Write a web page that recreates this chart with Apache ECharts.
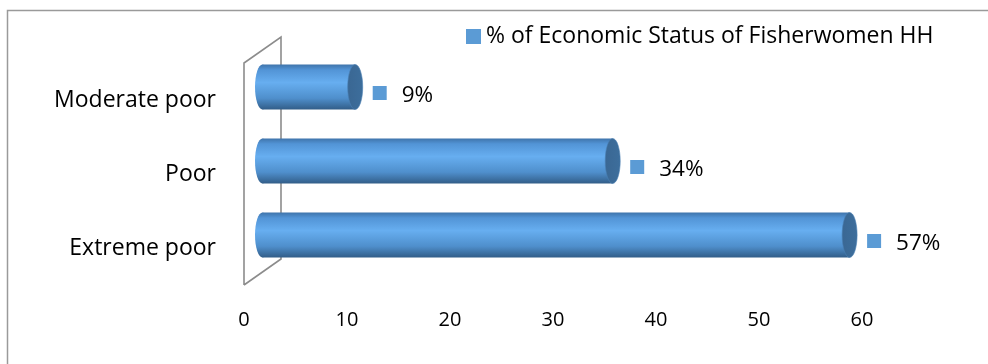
<!DOCTYPE html>
<html><head><meta charset="utf-8">
<script src="https://cdn.jsdelivr.net/npm/echarts@6/dist/echarts.min.js"></script>
<style>html,body{margin:0;padding:0;background:#fff}#c{width:988px;height:364px}</style>
</head><body><div id="c"></div>
<script>
var categories = ['Extreme poor', 'Poor', 'Moderate poor'];
var values = [57, 34, 9];
var seriesName = '% of Economic Status of Fisherwomen HH';
var xTicks = [0, 10, 20, 30, 40, 50, 60];

var FONT = '"Open Sans"';
var GL = 244, GT = 63, GW = 618, GH = 222;
var DX = 37, DY = -26; // depth offset
var chart = echarts.init(document.getElementById('c'), null, {renderer: 'canvas'});

function renderItem(params, api) {
  var idx = api.value(0), val = api.value(1);
  var p0 = api.coord([0, idx]);
  var p1 = api.coord([val, idx]);
  var ox = DX / 2, oy = DY / 2;
  var x0 = p0[0] + ox, x1 = p1[0] + ox, cy = p0[1] + oy;
  var h = 22.5, rx = 7.5;
  var grad = new echarts.graphic.LinearGradient(0, 0, 0, 1, [
    {offset: 0, color: '#3f74ab'},
    {offset: 0.12, color: '#5294d6'},
    {offset: 0.4, color: '#67aef0'},
    {offset: 0.75, color: '#4f8fcc'},
    {offset: 1, color: '#325d88'}
  ]);
  var capGrad = new echarts.graphic.LinearGradient(0, 0, 1, 0, [
    {offset: 0, color: '#3a6793'},
    {offset: 1, color: '#3d6e9c'}
  ]);
  var lx = x1 + rx + 10;
  return {
    type: 'group',
    children: [
      {type: 'ellipse', shape: {cx: x0, cy: cy, rx: rx, ry: h}, style: {fill: grad}},
      {type: 'rect', shape: {x: x0, y: cy - h, width: x1 - x0, height: 2 * h}, style: {fill: grad}},
      {type: 'ellipse', shape: {cx: x1, cy: cy, rx: rx, ry: h}, style: {fill: capGrad, stroke: '#4a7fb3', lineWidth: 0.6}},
      {type: 'rect', shape: {x: lx, y: cy + 6 - 7, width: 14, height: 14}, style: {fill: '#5b9bd5'}},
      {type: 'text', x: lx + 29, y: cy + 9, style: {text: val + '%', font: '22.5px ' + FONT, fill: '#000', textVerticalAlign: 'middle', verticalAlign: 'middle'}}
    ]
  };
}

var option = {
  animation: false,
  backgroundColor: '#fff',
  grid: {left: GL, top: GT, width: GW, height: GH, containLabel: false},
  legend: {
    show: true, left: 466, top: 25, padding: 0, itemWidth: 15, itemHeight: 15,
    data: [{name: seriesName, icon: 'rect'}],
    textStyle: {fontFamily: FONT, fontSize: 23, color: '#000'}
  },
  xAxis: {
    type: 'value', min: 0, max: 60, interval: 10,
    axisLine: {show: false}, axisTick: {show: false}, splitLine: {show: false},
    axisLabel: {fontFamily: FONT, fontSize: 20, color: '#000', margin: 25,
      formatter: function (v) { return xTicks.indexOf(v) >= 0 ? String(v) : ''; }}
  },
  yAxis: {
    type: 'category', data: categories,
    axisLine: {show: false}, axisTick: {show: false}, splitLine: {show: false},
    axisLabel: {fontFamily: FONT, fontSize: 23, color: '#000', margin: 28}
  },
  graphic: [
    {type: 'rect', shape: {x: 7.5, y: 10.5, width: 2000, height: 2000}, style: {fill: 'none', stroke: '#9a9a9a', lineWidth: 1.5}, z: -10},
    {type: 'polyline', shape: {points: [[GL, GT + GH], [GL, GT], [GL + DX, GT + DY], [GL + DX, GT + GH + DY], [GL, GT + GH]]},
      style: {fill: 'none', stroke: '#8c8c8c', lineWidth: 1.6}, z: -5}
  ],
  series: [{
    name: seriesName, type: 'custom', renderItem: renderItem,
    itemStyle: {color: '#5b9bd5'},
    encode: {x: 1, y: 0},
    data: values.map(function (v, i) { return [i, v]; }),
    z: 5
  }]
};
chart.setOption(option);
</script></body></html>
